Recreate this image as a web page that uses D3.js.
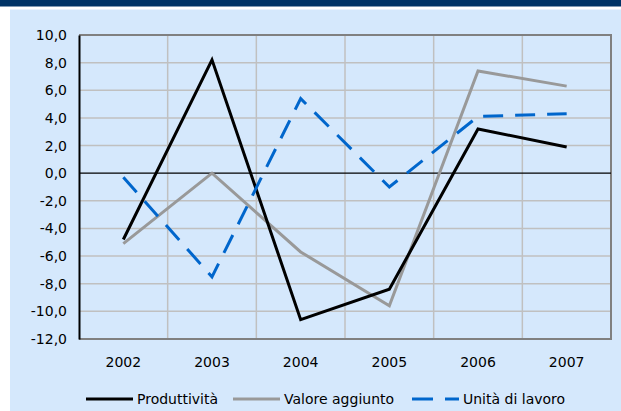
<!DOCTYPE html>
<html><head><meta charset="utf-8">
<script src="https://cdn.jsdelivr.net/npm/d3@7"></script>
<style>html,body{margin:0;padding:0;background:#fff;}svg{display:block;}</style>
</head><body>
<script>
const years = ["2002","2003","2004","2005","2006","2007"];
const produttivita = [-4.8, 8.2, -10.6, -8.4, 3.2, 1.9];
const valoreAggiunto = [-5.1, 0.0, -5.7, -9.6, 7.4, 6.3];
const unitaLavoro = [-0.3, -7.5, 5.4, -1.0, 4.1, 4.3];
const yTicks = [-12,-10,-8,-6,-4,-2,0,2,4,6,8,10];
const seriesNames = ["Produttività","Valore aggiunto","Unità di lavoro"];

const W = 621, H = 411;
const svg = d3.select("body").append("svg").attr("width", W).attr("height", H);
const font = "'DejaVu Sans', Verdana, sans-serif";

svg.append("rect").attr("x",0).attr("y",0).attr("width",W).attr("height",H).attr("fill","#ffffff");
svg.append("rect").attr("x",0).attr("y",0).attr("width",W).attr("height",6.5).attr("fill","#003366");
svg.append("rect").attr("x",10).attr("y",9.5).attr("width",W-10).attr("height",H-9.5).attr("fill","#d5e8fc");

const x = d3.scaleBand().domain(years).range([79, 611]).padding(0);
const y = d3.scaleLinear().domain([-12, 10]).range([339, 35]);

// horizontal grid
svg.append("g").selectAll("line").data(yTicks.filter(d => d !== 0 && d !== -12 && d !== 10)).join("line")
  .attr("x1", 79).attr("x2", 611).attr("y1", d => y(d)).attr("y2", d => y(d))
  .attr("stroke", "#c0c0c0").attr("stroke-width", 1.5);
// vertical grid
svg.append("g").selectAll("line").data(years.slice(1)).join("line")
  .attr("x1", d => x(d)).attr("x2", d => x(d)).attr("y1", 35).attr("y2", 339)
  .attr("stroke", "#c0c0c0").attr("stroke-width", 1.5);
// borders
svg.append("path").attr("d", `M79,${y(10)}H611V${y(-12)}H79`).attr("fill","none")
  .attr("stroke","#808080").attr("stroke-width",2);
// zero line
svg.append("line").attr("x1",79).attr("x2",611).attr("y1",y(0)).attr("y2",y(0))
  .attr("stroke","#000").attr("stroke-width",1.2);

// y axis
const yAxis = d3.axisLeft(y).tickValues(yTicks).tickSize(0).tickPadding(12)
  .tickFormat(d => d3.format(".1f")(d).replace(".", ",").replace("−","-"));
const gy = svg.append("g").attr("transform","translate(79,0)").call(yAxis);
gy.select(".domain").attr("stroke","#000").attr("stroke-width",2);
gy.selectAll("text").attr("font-family",font).attr("font-size",14).attr("fill","#000");

// x axis labels
const xAxis = d3.axisBottom(x).tickSize(0).tickPadding(18);
const gx = svg.append("g").attr("transform",`translate(0,${y(-12)})`).call(xAxis);
gx.select(".domain").remove();
gx.selectAll("text").attr("font-family",font).attr("font-size",14).attr("fill","#000");

const line = d3.line().x((d,i) => x(years[i]) + x.bandwidth()/2).y(d => y(d));
const styles = [
  {data: valoreAggiunto, color:"#999999", dash:null},
  {data: produttivita, color:"#000000", dash:null},
  {data: unitaLavoro, color:"#0066cc", dash:"20,12"}
];
styles.forEach(s => {
  svg.append("path").datum(s.data).attr("d", line).attr("fill","none")
    .attr("stroke", s.color).attr("stroke-width", 3).attr("stroke-linejoin","miter")
    .attr("stroke-dasharray", s.dash);
});

// legend
const legendItems = [
  {name: seriesNames[0], color:"#000000", dash:null, x:86},
  {name: seriesNames[1], color:"#999999", dash:null, x:233},
  {name: seriesNames[2], color:"#0066cc", dash:"21,12", x:412}
];
const lg = svg.append("g");
legendItems.forEach(it => {
  lg.append("line").attr("x1", it.x).attr("x2", it.x+47).attr("y1",399).attr("y2",399)
    .attr("stroke", it.color).attr("stroke-width",3).attr("stroke-dasharray", it.dash);
  lg.append("text").attr("x", it.x+51).attr("y",404).attr("font-family",font).attr("font-size",14)
    .attr("fill","#000").text(it.name);
});
</script>
</body></html>
